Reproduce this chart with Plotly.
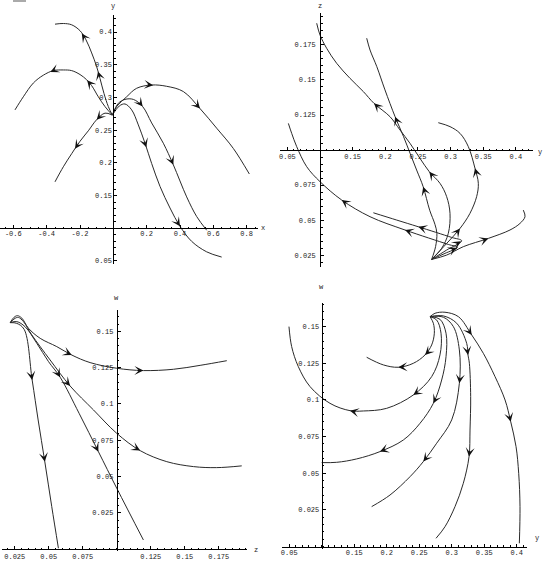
import math
import plotly.graph_objects as go

W, H = 545, 562

# ---------------- Panel 1 : x (horizontal) vs y (vertical) ----------------
P1_A = [(-0.006, 0.273), (-0.030, 0.286), (-0.056, 0.306), (-0.080, 0.329), (-0.100, 0.347),
        (-0.130, 0.368), (-0.164, 0.388), (-0.200, 0.402), (-0.250, 0.411), (-0.300, 0.413), (-0.350, 0.412)]
P1_B = [(-0.006, 0.273), (-0.050, 0.286), (-0.090, 0.301), (-0.130, 0.318), (-0.160, 0.327), (-0.200, 0.335),
        (-0.250, 0.341), (-0.300, 0.342), (-0.360, 0.341), (-0.420, 0.334), (-0.480, 0.322), (-0.540, 0.301), (-0.590, 0.281)]
P1_C = [(-0.006, 0.273), (-0.050, 0.276), (-0.100, 0.266), (-0.150, 0.249), (-0.200, 0.233),
        (-0.250, 0.214), (-0.300, 0.194), (-0.350, 0.171)]
P1_D = [(-0.006, 0.273), (0.020, 0.286), (0.080, 0.301), (0.140, 0.314), (0.230, 0.319), (0.320, 0.317),
        (0.420, 0.309), (0.520, 0.283), (0.620, 0.253), (0.720, 0.222), (0.816, 0.183)]
P1_E = [(-0.006, 0.273), (0.030, 0.291), (0.070, 0.297), (0.120, 0.297), (0.176, 0.286), (0.230, 0.261),
        (0.300, 0.230), (0.360, 0.197), (0.440, 0.148), (0.500, 0.118), (0.560, 0.097)]
P1_F = [(-0.006, 0.273), (0.036, 0.287), (0.070, 0.290), (0.110, 0.281), (0.150, 0.258), (0.190, 0.230),
        (0.230, 0.199), (0.280, 0.164), (0.340, 0.131), (0.400, 0.103), (0.470, 0.080), (0.560, 0.064), (0.650, 0.056)]
P1_CURVES = [P1_A, P1_B, P1_C, P1_D, P1_E, P1_F]
P1_ARROW_T = [[3.6, 6.7], [3.9, 8.3], [2.0, 4.6], [4.1, 7.0], [4.0, 7.0], [5.2, 9.0]]
P1_XTICKS = [-0.6, -0.4, -0.2, 0.2, 0.4, 0.6, 0.8]
P1_XLABELS = ["-0.6", "-0.4", "-0.2", "0.2", "0.4", "0.6", "0.8"]
P1_YTICKS = [0.05, 0.15, 0.2, 0.25, 0.3, 0.35, 0.4]
P1_YLABELS = ["0.05", "0.15", "0.2", "0.25", "0.3", "0.35", "0.4"]

# ---------------- Panel 2 : y (horizontal) vs z (vertical) ----------------
P2_A = [(0.271, 0.0219), (0.277, 0.031), (0.279, 0.0405), (0.276, 0.047), (0.268, 0.057), (0.258, 0.0738),
        (0.248, 0.0857), (0.238, 0.0976), (0.228, 0.1095), (0.215, 0.1238), (0.1995, 0.1429), (0.187, 0.1595),
        (0.1766, 0.1714), (0.1715, 0.1798)]
P2_B = [(0.271, 0.0219), (0.2863, 0.0298), (0.2965, 0.0405), (0.2991, 0.0548), (0.294, 0.0667), (0.2838, 0.0762),
        (0.2674, 0.0845), (0.2532, 0.094), (0.2378, 0.1048), (0.2225, 0.1143), (0.2072, 0.1238), (0.1827, 0.1333),
        (0.1664, 0.1417), (0.1459, 0.1512), (0.1255, 0.1619), (0.1102, 0.1726), (0.1, 0.1821), (0.0949, 0.1905)]
P2_C = [(0.271, 0.0219), (0.294, 0.0333), (0.3144, 0.044), (0.3297, 0.0548), (0.3399, 0.0667), (0.3425, 0.0762),
        (0.3374, 0.0869), (0.3272, 0.1024), (0.3144, 0.1119), (0.2991, 0.1167), (0.2812, 0.1195)]
P2_D = [(0.271, 0.0219), (0.294, 0.0286), (0.317, 0.0352), (0.3016, 0.0376), (0.2506, 0.0452),
        (0.2174, 0.05), (0.1817, 0.0552)]
P2_E = [(0.271, 0.0219), (0.2914, 0.0262), (0.3103, 0.0305), (0.2965, 0.0326), (0.2302, 0.0429), (0.1766, 0.0524),
        (0.1332, 0.0643), (0.1, 0.0774), (0.0796, 0.0881), (0.0643, 0.1024), (0.0566, 0.1119), (0.0515, 0.119)]
P2_F = [(0.271, 0.0219), (0.294, 0.025), (0.3195, 0.031), (0.3578, 0.0369), (0.391, 0.0429), (0.4063, 0.0476),
        (0.414, 0.0524), (0.4114, 0.0571)]
P2_CURVES = [P2_A, P2_B, P2_C, P2_D, P2_E, P2_F]
P2_ARROW_T = [[5.0, 9.0], [6.0, 11.0], [2.0, 6.0], [1.95, 4.0], [1.95, 4.0, 6.0], [3.0]]
P2_XTICKS = [0.05, 0.15, 0.2, 0.25, 0.3, 0.35, 0.4]
P2_XLABELS = ["0.05", "0.15", "0.2", "0.25", "0.3", "0.35", "0.4"]
P2_YTICKS = [0.025, 0.05, 0.075, 0.125, 0.15, 0.175]
P2_YLABELS = ["0.025", "0.05", "0.075", "0.125", "0.15", "0.175"]

# ---------------- Panel 3 : z (horizontal) vs w (vertical) ----------------
P3_A = [(0.0216, 0.156), (0.0245, 0.1597), (0.027, 0.1608), (0.0302, 0.1591), (0.0351, 0.1521), (0.0437, 0.1452),
        (0.0559, 0.1395), (0.0669, 0.1337), (0.0804, 0.1285), (0.1, 0.1246), (0.1196, 0.123), (0.1417, 0.1239),
        (0.1613, 0.1266), (0.1809, 0.1298)]
P3_B = [(0.0216, 0.156), (0.0253, 0.159), (0.0277, 0.1596), (0.0314, 0.1567), (0.0375, 0.1476), (0.051, 0.1303),
        (0.0657, 0.1124), (0.0829, 0.0959), (0.1, 0.0798), (0.1172, 0.0679), (0.1368, 0.0603), (0.1564, 0.0569),
        (0.1735, 0.0562), (0.1919, 0.0574)]
P3_C = [(0.0216, 0.156), (0.0265, 0.1567), (0.0326, 0.1532), (0.0412, 0.1418), (0.0498, 0.1292), (0.0584, 0.1184),
        (0.0723, 0.0936), (0.0865, 0.0672), (0.1, 0.042), (0.1196, 0.0064)]
P3_D = [(0.0216, 0.156), (0.0265, 0.1555), (0.0319, 0.1514), (0.0378, 0.1165), (0.0422, 0.089), (0.0471, 0.0603),
        (0.0522, 0.0294), (0.0571, 0.0007)]
P3_CURVES = [P3_A, P3_B, P3_C, P3_D]
P3_ARROW_T = [[7.0, 10.0], [6.0, 9.0], [5.0, 7.0], [3.0, 5.0]]
P3_XTICKS = [0.025, 0.05, 0.075, 0.125, 0.15, 0.175]
P3_XLABELS = ["0.025", "0.05", "0.075", "0.125", "0.15", "0.175"]
P3_YTICKS = [0.025, 0.05, 0.075, 0.1, 0.125, 0.15]
P3_YLABELS = ["0.025", "0.05", "0.075", "0.1", "0.125", "0.15"]

# ---------------- Panel 4 : y (horizontal) vs w (vertical) ----------------
P4_A = [(0.2667, 0.1568), (0.2718, 0.1523), (0.2733, 0.1455), (0.2692, 0.1375), (0.259, 0.1307), (0.241, 0.125),
        (0.2179, 0.1223), (0.1949, 0.1239), (0.1692, 0.1291)]
P4_B = [(0.2667, 0.1568), (0.2769, 0.1545), (0.2836, 0.1455), (0.282, 0.1307), (0.2692, 0.1159), (0.241, 0.1034),
        (0.2, 0.0943), (0.1641, 0.0925), (0.1436, 0.0927), (0.1128, 0.0977), (0.0821, 0.1091), (0.0641, 0.1227),
        (0.0538, 0.1364), (0.0497, 0.15)]
P4_C = [(0.2667, 0.1568), (0.282, 0.155), (0.2913, 0.1455), (0.2913, 0.1295), (0.2846, 0.1136), (0.2718, 0.0977),
        (0.2513, 0.0841), (0.2256, 0.0727), (0.1897, 0.0648), (0.1538, 0.0598), (0.1231, 0.0575), (0.1, 0.0573)]
P4_D = [(0.2667, 0.1568), (0.2872, 0.1564), (0.3026, 0.15), (0.3118, 0.1341), (0.3118, 0.1114), (0.3, 0.0864),
        (0.2769, 0.0705), (0.2564, 0.058), (0.2359, 0.0477), (0.2051, 0.0352), (0.1769, 0.0273)]
P4_E = [(0.2667, 0.1568), (0.2872, 0.1573), (0.3077, 0.1523), (0.3231, 0.1386), (0.3251, 0.1307), (0.3272, 0.125),
        (0.3292, 0.1023), (0.3282, 0.0795), (0.3267, 0.0614), (0.3179, 0.0432), (0.3051, 0.0273), (0.2897, 0.0136),
        (0.2759, 0.0057)]
P4_F = [(0.2667, 0.1568), (0.2744, 0.1591), (0.2897, 0.1598), (0.3103, 0.1568), (0.3308, 0.1443), (0.3487, 0.1318),
        (0.3667, 0.1159), (0.3821, 0.1), (0.3908, 0.0852), (0.399, 0.0682), (0.4031, 0.05), (0.4051, 0.0273),
        (0.4041, 0.0023)]
P4_CURVES = [P4_A, P4_B, P4_C, P4_D, P4_E, P4_F]
P4_ARROW_T = [[4.0, 6.0], [5.0, 8.0], [5.0, 8.0], [4.0, 7.0], [4.0, 8.0], [4.0, 8.0]]
P4_XTICKS = [0.05, 0.15, 0.2, 0.25, 0.3, 0.35, 0.4]
P4_XLABELS = ["0.05", "0.15", "0.2", "0.25", "0.3", "0.35", "0.4"]
P4_YTICKS = [0.025, 0.05, 0.075, 0.1, 0.125, 0.15]
P4_YLABELS = ["0.025", "0.05", "0.075", "0.1", "0.125", "0.15"]

# ---------------- layout / style ----------------
LINE_COLOR = "#2a2a2a"
FONT = dict(family="Liberation Mono, DejaVu Sans Mono, monospace", size=7, color="#222")

panels = [
    dict(curves=P1_CURVES, arrows=P1_ARROW_T, xr=(-0.68, 0.868), yr=(0.0454, 0.426),
         xpx=(0, 258), ypx=(15, 264), vcross=0.0, hcross=0.1,
         xt=P1_XTICKS, xl=P1_XLABELS, yt=P1_YTICKS, yl=P1_YLABELS, xminor=0.05, yminor=0.01,
         hname="x", vname="y", xstand=-2, ystand=0, vshift=9, hshift=(5, 0)),
    dict(curves=P2_CURVES, arrows=P2_ARROW_T, xr=(0.0387, 0.4267), yr=(0.0167, 0.1976),
         xpx=(280, 533.3), ypx=(13.3, 266.7), vcross=0.1, hcross=0.1,
         xt=P2_XTICKS, xl=P2_XLABELS, yt=P2_YTICKS, yl=P2_YLABELS, xminor=0.01, yminor=0.005,
         hname="y", vname="z", xstand=0, ystand=3, vshift=7, hshift=(7, -2)),
    dict(curves=P3_CURVES, arrows=P3_ARROW_T, xr=(0.0154, 0.196), yr=(-0.0012, 0.1647),
         xpx=(1.7, 247.3), ypx=(310, 551), vcross=0.1, hcross=0.0,
         xt=P3_XTICKS, xl=P3_XLABELS, yt=P3_YTICKS, yl=P3_YLABELS, xminor=0.005, yminor=0.005,
         hname="z", vname="w", xstand=0, ystand=2, vshift=12, hshift=(9, -1)),
    dict(curves=P4_CURVES, arrows=P4_ARROW_T, xr=(0.0385, 0.4154), yr=(-0.0016, 0.1659),
         xpx=(281.7, 526.7), ypx=(303.3, 549), vcross=0.1, hcross=0.0,
         xt=P4_XTICKS, xl=P4_XLABELS, yt=P4_YTICKS, yl=P4_YLABELS, xminor=0.01, yminor=0.005,
         hname="y", vname="w", xstand=-1, ystand=1, vshift=16, hshift=(10, 9)),
]

fig = go.Figure()
layout = dict(width=W, height=H, margin=dict(l=0, r=0, t=0, b=0), autosize=False,
              plot_bgcolor="white", paper_bgcolor="white", showlegend=False)
annotations = []


def arrow_geom(pts, t, sx, sy, L=7.0):
    n = len(pts)
    i = int(math.floor(t))
    f = t - i
    if i >= n - 1:
        i, f = n - 2, 1.0
    x0, y0 = pts[i]
    x1, y1 = pts[i + 1]
    hx = x0 + f * (x1 - x0)
    hy = y0 + f * (y1 - y0)
    if f == 0 and 0 < i < n - 1:
        dx = pts[i + 1][0] - pts[i - 1][0]
        dy = pts[i + 1][1] - pts[i - 1][1]
    else:
        dx, dy = x1 - x0, y1 - y0
    px, py = dx * sx, dy * sy
    nrm = math.hypot(px, py) or 1.0
    ux, uy = px / nrm, py / nrm
    tx = hx - L * ux / sx
    ty = hy - L * uy / sy
    return hx, hy, tx, ty


for k, p in enumerate(panels, start=1):
    xa = "x" if k == 1 else f"x{k}"
    ya = "y" if k == 1 else f"y{k}"
    xkey = "xaxis" if k == 1 else f"xaxis{k}"
    ykey = "yaxis" if k == 1 else f"yaxis{k}"
    xdom = [p["xpx"][0] / W, p["xpx"][1] / W]
    ydom = [1 - p["ypx"][1] / H, 1 - p["ypx"][0] / H]
    xr, yr = p["xr"], p["yr"]
    hpos = ydom[0] + (p["hcross"] - yr[0]) / (yr[1] - yr[0]) * (ydom[1] - ydom[0])
    vpos = xdom[0] + (p["vcross"] - xr[0]) / (xr[1] - xr[0]) * (xdom[1] - xdom[0])
    sx = (p["xpx"][1] - p["xpx"][0]) / (xr[1] - xr[0])
    sy = (p["ypx"][1] - p["ypx"][0]) / (yr[1] - yr[0])

    common = dict(showline=True, linecolor="black", linewidth=1, ticks="inside", ticklen=3,
                  tickcolor="black", tickwidth=1, showgrid=False, zeroline=False, fixedrange=True,
                  tickfont=FONT, anchor="free", tickmode="array")
    layout[xkey] = dict(common, range=list(xr), domain=xdom, position=hpos, side="bottom",
                        tickvals=p["xt"], ticktext=p["xl"], ticklabelstandoff=p["xstand"],
                        minor=dict(dtick=p["xminor"], tick0=0, ticks="inside", ticklen=1.5,
                                   tickcolor="black", tickwidth=1))
    layout[ykey] = dict(common, range=list(yr), domain=ydom, position=vpos, side="left",
                        tickvals=p["yt"], ticktext=p["yl"], ticklabelstandoff=p["ystand"],
                        minor=dict(dtick=p["yminor"], tick0=0, ticks="inside", ticklen=1.5,
                                   tickcolor="black", tickwidth=1))

    for pts, ts in zip(p["curves"], p["arrows"]):
        fig.add_trace(go.Scatter(x=[q[0] for q in pts], y=[q[1] for q in pts], mode="lines",
                                 line=dict(color=LINE_COLOR, width=1, shape="spline", smoothing=1.0),
                                 xaxis=xa, yaxis=ya, hoverinfo="skip"))
        for t in ts:
            hx, hy, tx, ty = arrow_geom(pts, t, sx, sy)
            annotations.append(dict(x=hx, y=hy, ax=tx, ay=ty, xref=xa, yref=ya, axref=xa, ayref=ya,
                                    text="", showarrow=True, arrowhead=3, arrowsize=1.5,
                                    arrowwidth=1, arrowcolor="#111", standoff=0))

    # axis names
    annotations.append(dict(x=p["vcross"], y=1, xref=xa, yref=f"{ya} domain", text=p["vname"],
                            showarrow=False, xanchor="center", yanchor="middle", yshift=p["vshift"],
                            font=FONT))
    annotations.append(dict(x=1, y=p["hcross"], xref=f"{xa} domain", yref=ya, text=p["hname"],
                            showarrow=False, xanchor="center", yanchor="middle",
                            xshift=p["hshift"][0], yshift=p["hshift"][1], font=FONT))

layout["annotations"] = annotations
layout["shapes"] = [dict(type="rect", xref="paper", yref="paper", x0=13 / W, x1=26 / W,
                         y0=1 - 2 / H, y1=1, line=dict(width=0), fillcolor="#aaaaaa")]
fig.update_layout(**layout)
# remove the browser's default 8px page margin so the figure fills the window exactly
fig.write_html("out.html", config={"displayModeBar": False, "staticPlot": True},
               post_script="document.body.style.margin='0';")
